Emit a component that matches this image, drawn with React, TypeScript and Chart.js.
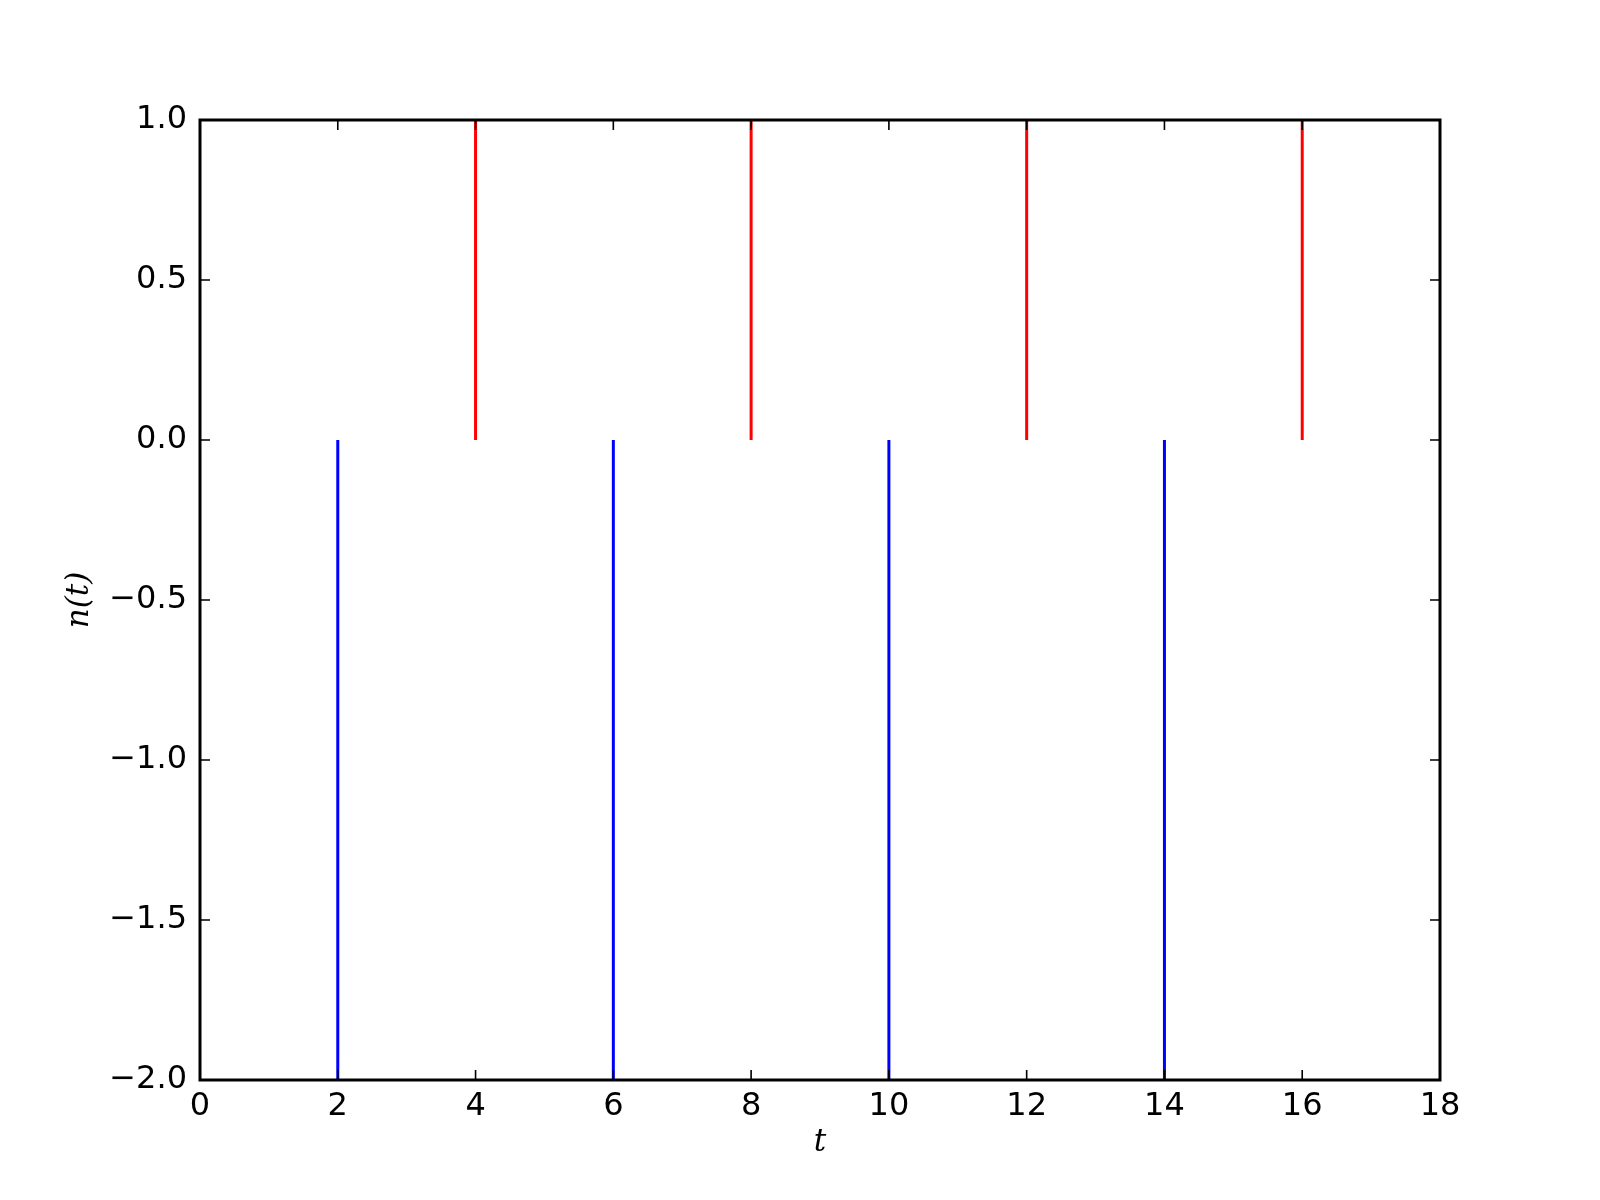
import React, { useEffect, useRef } from "react";
import { Chart, registerables } from "chart.js";

Chart.register(...registerables);

const redT = [4, 8, 12, 16];
const redTop = [1, 1, 1, 1];
const blueT = [2, 6, 10, 14];
const blueBottom = [-2, -2, -2, -2];
const baseline = 0;
const xTicks = [0, 2, 4, 6, 8, 10, 12, 14, 16, 18];
const yTicks = [-2.0, -1.5, -1.0, -0.5, 0.0, 0.5, 1.0];
const xLabel = "t";
const yLabel = "n(t)";

function stems(ts: number[], ends: number[]) {
  const pts: { x: number; y: number | null }[] = [];
  ts.forEach((t, i) => {
    pts.push({ x: t, y: baseline });
    pts.push({ x: t, y: ends[i] });
    pts.push({ x: t, y: null });
  });
  return pts;
}

const framePlugin = {
  id: "frame",
  afterDatasetsDraw(chart: any) {
    const { ctx, chartArea: a, scales } = chart;
    const xs = scales.x;
    const ys = scales.y;
    const tl = 10;
    ctx.save();
    ctx.strokeStyle = "#000";
    ctx.lineWidth = 1.6;
    ctx.beginPath();
    xTicks.forEach((v) => {
      const px = xs.getPixelForValue(v);
      ctx.moveTo(px, a.bottom);
      ctx.lineTo(px, a.bottom - tl);
      ctx.moveTo(px, a.top);
      ctx.lineTo(px, a.top + tl);
    });
    yTicks.forEach((v) => {
      const py = ys.getPixelForValue(v);
      ctx.moveTo(a.left, py);
      ctx.lineTo(a.left + tl, py);
      ctx.moveTo(a.right, py);
      ctx.lineTo(a.right - tl, py);
    });
    ctx.stroke();
    ctx.lineWidth = 3;
    ctx.strokeRect(a.left, a.top, a.right - a.left, a.bottom - a.top);
    ctx.fillStyle = "#000";
    ctx.font = "italic 31px 'DejaVu Serif'";
    ctx.textAlign = "center";
    ctx.textBaseline = "middle";
    ctx.fillText(xLabel, (a.left + a.right) / 2, 1143);
    ctx.translate(80, (a.top + a.bottom) / 2);
    ctx.rotate(-Math.PI / 2);
    ctx.fillText(yLabel, 0, 0);
    ctx.restore();
  },
};

export default function App() {
  const ref = useRef<HTMLCanvasElement>(null);
  useEffect(() => {
    document.body.style.margin = "0";
    const chart = new Chart(ref.current!, {
      type: "scatter",
      data: {
        datasets: [
          {
            data: stems(redT, redTop),
            showLine: true,
            spanGaps: false,
            borderColor: "#ff0000",
            borderWidth: 3,
            pointRadius: 0,
          },
          {
            data: stems(blueT, blueBottom),
            showLine: true,
            spanGaps: false,
            borderColor: "#0000ff",
            borderWidth: 3,
            pointRadius: 0,
          },
        ],
      },
      options: {
        responsive: false,
        animation: false,
        layout: { padding: { left: 0, right: 160, top: 120, bottom: 0 } },
        plugins: { legend: { display: false }, tooltip: { enabled: false } },
        scales: {
          x: {
            type: "linear",
            min: 0,
            max: 18,
            afterBuildTicks: (s: any) => {
              s.ticks = xTicks.map((v) => ({ value: v }));
            },
            afterFit: (s: any) => {
              s.height = 120;
            },
            grid: { display: false, drawTicks: false, tickLength: 0 },
            border: { display: false },
            ticks: {
              font: { family: "'DejaVu Sans'", size: 32 },
              color: "#000",
              padding: 7,
              maxRotation: 0,
              autoSkip: false,
              callback: (v: any) => String(v),
            },
          },
          y: {
            type: "linear",
            min: -2,
            max: 1,
            afterBuildTicks: (s: any) => {
              s.ticks = yTicks.map((v) => ({ value: v }));
            },
            afterFit: (s: any) => {
              s.width = 200;
            },
            grid: { display: false, drawTicks: false, tickLength: 0 },
            border: { display: false },
            ticks: {
              font: { family: "'DejaVu Sans'", size: 32 },
              color: "#000",
              padding: 13,
              autoSkip: false,
              callback: (v: any) => {
                const n = Number(v);
                const s = Math.abs(n).toFixed(1);
                return n < 0 ? "\u2212" + s : s;
              },
            },
          },
        },
      },
      plugins: [framePlugin],
    });
    return () => chart.destroy();
  }, []);
  return (
    <div style={{ position: "absolute", left: 0, top: 0, width: 1600, height: 1200, background: "#fff" }}>
      <canvas ref={ref} width={1600} height={1200} />
    </div>
  );
}
